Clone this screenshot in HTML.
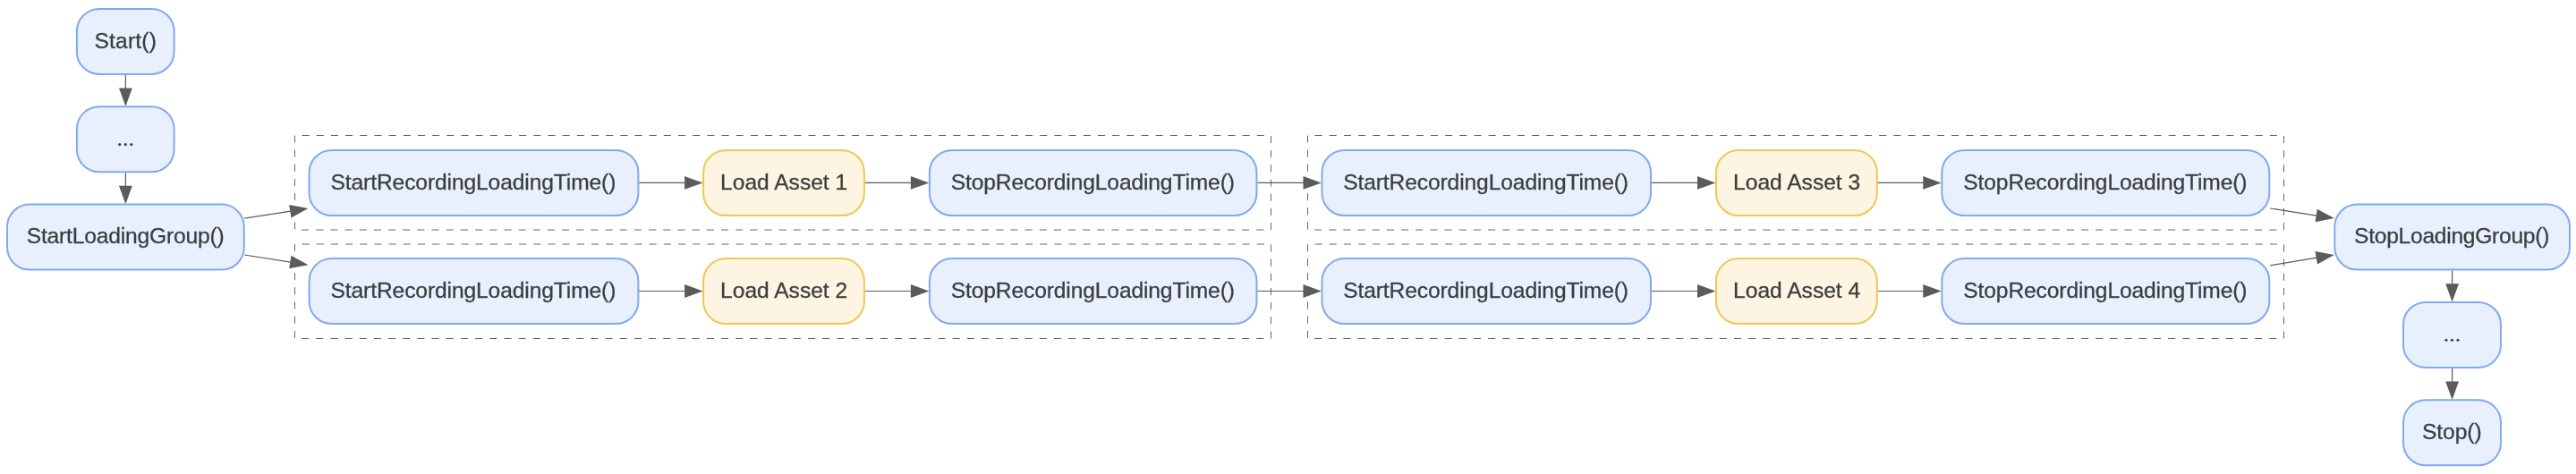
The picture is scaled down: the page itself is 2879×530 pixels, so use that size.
<!DOCTYPE html>
<html><head><meta charset="utf-8"><title>Loading groups</title><style>html,body{margin:0;padding:0;background:#fff;overflow:hidden}svg{display:block;will-change:transform}</style></head><body>
<svg width="2879" height="530" viewBox="0 0 2879 530">
<rect width="2879" height="530" fill="#fff"/>
<g fill="none" stroke="#666666" stroke-width="1" stroke-dasharray="8.085 8.085" stroke-dashoffset="8.085">
<rect x="329.5" y="151.5" width="1091.00" height="105.50"/>
<rect x="329.5" y="273.0" width="1091.00" height="105.50"/>
<rect x="1461.5" y="151.5" width="1091.00" height="105.50"/>
<rect x="1461.5" y="273.0" width="1091.00" height="105.50"/>
</g>
<g stroke="#5b5b5b" stroke-width="1.2" fill="#5b5b5b"><line x1="140.40" y1="83.90" x2="140.40" y2="99.00"/><polygon stroke="none" points="140.40,118.90 133.00,98.50 147.80,98.50"/>
<line x1="140.40" y1="193.30" x2="140.40" y2="208.30"/><polygon stroke="none" points="140.40,228.20 133.00,207.80 147.80,207.80"/>
<line x1="2740.60" y1="302.60" x2="2740.60" y2="317.65"/><polygon stroke="none" points="2740.60,337.55 2733.20,317.15 2748.00,317.15"/>
<line x1="2740.60" y1="411.95" x2="2740.60" y2="427.00"/><polygon stroke="none" points="2740.60,446.90 2733.20,426.50 2748.00,426.50"/>
<line x1="713.60" y1="204.40" x2="765.60" y2="204.40"/><polygon stroke="none" points="785.50,204.40 765.10,211.80 765.10,197.00"/>
<line x1="966.10" y1="204.40" x2="1018.40" y2="204.40"/><polygon stroke="none" points="1038.30,204.40 1017.90,211.80 1017.90,197.00"/>
<line x1="1404.70" y1="204.40" x2="1457.00" y2="204.40"/><polygon stroke="none" points="1476.90,204.40 1456.50,211.80 1456.50,197.00"/>
<line x1="1845.20" y1="204.40" x2="1897.50" y2="204.40"/><polygon stroke="none" points="1917.40,204.40 1897.00,211.80 1897.00,197.00"/>
<line x1="2098.00" y1="204.40" x2="2149.80" y2="204.40"/><polygon stroke="none" points="2169.70,204.40 2149.30,211.80 2149.30,197.00"/>
<line x1="713.60" y1="325.50" x2="765.60" y2="325.50"/><polygon stroke="none" points="785.50,325.50 765.10,332.90 765.10,318.10"/>
<line x1="966.10" y1="325.50" x2="1018.40" y2="325.50"/><polygon stroke="none" points="1038.30,325.50 1017.90,332.90 1017.90,318.10"/>
<line x1="1404.70" y1="325.50" x2="1457.00" y2="325.50"/><polygon stroke="none" points="1476.90,325.50 1456.50,332.90 1456.50,318.10"/>
<line x1="1845.20" y1="325.50" x2="1897.50" y2="325.50"/><polygon stroke="none" points="1917.40,325.50 1897.00,332.90 1897.00,318.10"/>
<line x1="2098.00" y1="325.50" x2="2149.80" y2="325.50"/><polygon stroke="none" points="2169.70,325.50 2149.30,332.90 2149.30,318.10"/>
<line x1="273.20" y1="244.10" x2="324.83" y2="236.13"/><polygon stroke="none" points="344.50,233.10 325.47,243.52 323.21,228.90"/>
<line x1="273.20" y1="285.00" x2="324.84" y2="293.11"/><polygon stroke="none" points="344.50,296.20 323.20,300.34 325.50,285.72"/>
<line x1="2537.10" y1="233.00" x2="2589.13" y2="241.06"/><polygon stroke="none" points="2608.80,244.10 2587.51,248.29 2589.77,233.67"/>
<line x1="2537.10" y1="296.90" x2="2589.17" y2="288.18"/><polygon stroke="none" points="2608.80,284.90 2589.90,295.57 2587.46,280.97"/></g>
<rect x="85.9" y="9.9" width="108.70" height="73" rx="25" fill="#e8f0fe" stroke="#82a9ef" stroke-width="2"/>
<rect x="85.9" y="119.3" width="108.70" height="73" rx="25" fill="#e8f0fe" stroke="#82a9ef" stroke-width="2"/>
<rect x="8.0" y="228.6" width="264.80" height="73" rx="25" fill="#e8f0fe" stroke="#82a9ef" stroke-width="2"/>
<rect x="345.6" y="168.0" width="367.80" height="73" rx="25" fill="#e8f0fe" stroke="#82a9ef" stroke-width="2"/>
<rect x="786.1" y="168.0" width="179.80" height="73" rx="25" fill="#fdf5e1" stroke="#efc853" stroke-width="2"/>
<rect x="1038.9" y="168.0" width="365.60" height="73" rx="25" fill="#e8f0fe" stroke="#82a9ef" stroke-width="2"/>
<rect x="1477.5" y="168.0" width="367.50" height="73" rx="25" fill="#e8f0fe" stroke="#82a9ef" stroke-width="2"/>
<rect x="1918.0" y="168.0" width="179.80" height="73" rx="25" fill="#fdf5e1" stroke="#efc853" stroke-width="2"/>
<rect x="2170.3" y="168.0" width="366.00" height="73" rx="25" fill="#e8f0fe" stroke="#82a9ef" stroke-width="2"/>
<rect x="345.6" y="289.1" width="367.80" height="73" rx="25" fill="#e8f0fe" stroke="#82a9ef" stroke-width="2"/>
<rect x="786.1" y="289.1" width="179.80" height="73" rx="25" fill="#fdf5e1" stroke="#efc853" stroke-width="2"/>
<rect x="1038.9" y="289.1" width="365.60" height="73" rx="25" fill="#e8f0fe" stroke="#82a9ef" stroke-width="2"/>
<rect x="1477.5" y="289.1" width="367.50" height="73" rx="25" fill="#e8f0fe" stroke="#82a9ef" stroke-width="2"/>
<rect x="1918.0" y="289.1" width="179.80" height="73" rx="25" fill="#fdf5e1" stroke="#efc853" stroke-width="2"/>
<rect x="2170.3" y="289.1" width="366.00" height="73" rx="25" fill="#e8f0fe" stroke="#82a9ef" stroke-width="2"/>
<rect x="2609.3" y="228.6" width="262.70" height="73" rx="25" fill="#e8f0fe" stroke="#82a9ef" stroke-width="2"/>
<rect x="2686.0" y="337.95" width="109.00" height="73" rx="25" fill="#e8f0fe" stroke="#82a9ef" stroke-width="2"/>
<rect x="2686.0" y="447.3" width="109.00" height="73" rx="25" fill="#e8f0fe" stroke="#82a9ef" stroke-width="2"/>
<g font-family="Liberation Sans, sans-serif" font-size="24.6" fill="#3c3d3f" stroke="#3c3d3f" stroke-width="0.3">
<text x="105.49" y="53.50" textLength="69.47" lengthAdjust="spacing">Start()</text>
<circle stroke="none" cx="133.75" cy="161.60" r="1.55"/>
<circle stroke="none" cx="140.25" cy="161.60" r="1.55"/>
<circle stroke="none" cx="146.75" cy="161.60" r="1.55"/>
<text x="29.69" y="272.20" textLength="220.97" lengthAdjust="spacing">StartLoadingGroup()</text>
<text x="369.53" y="211.60" textLength="318.88" lengthAdjust="spacing">StartRecordingLoadingTime()</text>
<text x="805.09" y="211.60" textLength="142.08" lengthAdjust="spacing">Load Asset 1</text>
<text x="1062.72" y="211.60" textLength="317.22" lengthAdjust="spacing">StopRecordingLoadingTime()</text>
<text x="1501.17" y="211.60" textLength="318.88" lengthAdjust="spacing">StartRecordingLoadingTime()</text>
<text x="1937.09" y="211.60" textLength="142.08" lengthAdjust="spacing">Load Asset 3</text>
<text x="2194.33" y="211.60" textLength="317.22" lengthAdjust="spacing">StopRecordingLoadingTime()</text>
<text x="369.53" y="332.70" textLength="318.88" lengthAdjust="spacing">StartRecordingLoadingTime()</text>
<text x="805.09" y="332.70" textLength="142.08" lengthAdjust="spacing">Load Asset 2</text>
<text x="1062.72" y="332.70" textLength="317.22" lengthAdjust="spacing">StopRecordingLoadingTime()</text>
<text x="1501.17" y="332.70" textLength="318.88" lengthAdjust="spacing">StartRecordingLoadingTime()</text>
<text x="1937.09" y="332.70" textLength="142.08" lengthAdjust="spacing">Load Asset 4</text>
<text x="2194.33" y="332.70" textLength="317.22" lengthAdjust="spacing">StopRecordingLoadingTime()</text>
<text x="2631.09" y="272.20" textLength="218.31" lengthAdjust="spacing">StopLoadingGroup()</text>
<circle stroke="none" cx="2734.00" cy="380.25" r="1.55"/>
<circle stroke="none" cx="2740.50" cy="380.25" r="1.55"/>
<circle stroke="none" cx="2747.00" cy="380.25" r="1.55"/>
<text x="2706.93" y="490.90" textLength="66.68" lengthAdjust="spacing">Stop()</text>
</g></svg></body></html>
